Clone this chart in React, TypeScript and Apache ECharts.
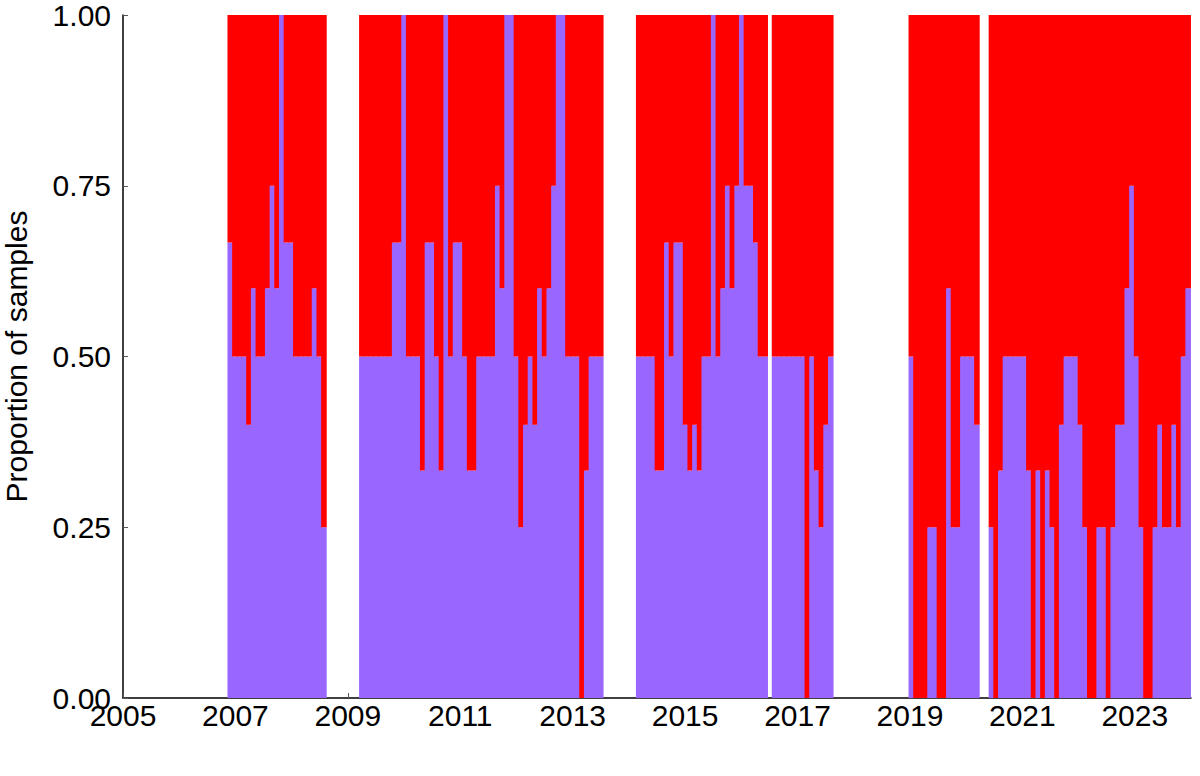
import React, { useEffect, useRef } from "react";
import * as echarts from "echarts";

// Blocks of consecutive monthly proportions (purple share); start = months since Jan 2005
const blockStarts = [22.3, 50.4, 109.5, 138.5, 167.7, 184.8];
const block1 = [0.667, 0.5, 0.5, 0.5, 0.4, 0.6, 0.5, 0.5, 0.6, 0.75, 0.6, 1, 0.667, 0.667, 0.5, 0.5, 0.5, 0.5, 0.6, 0.5, 0.25];
const block2 = [0.5, 0.5, 0.5, 0.5, 0.5, 0.5, 0.5, 0.667, 0.667, 1, 0.5, 0.5, 0.5, 0.333, 0.667, 0.667, 0.5, 0.333, 1, 0.5, 0.667, 0.667, 0.5, 0.333, 0.333,
  0.5, 0.5, 0.5, 0.5, 0.75, 0.6, 1, 1, 0.5, 0.25, 0.4, 0.5, 0.4, 0.6, 0.5, 0.6, 0.75, 1, 1, 0.5, 0.5, 0.5, 0, 0.333, 0.5, 0.5, 0.5];
const block3 = [0.5, 0.5, 0.5, 0.5, 0.333, 0.333, 0.667, 0.5, 0.667, 0.667, 0.4, 0.333, 0.4, 0.333, 0.5, 0.5, 1, 0.5, 0.6, 0.75, 0.6, 0.75, 1, 0.75, 0.75, 0.667, 0.5, 0.5];
const block4 = [0.5, 0.5, 0.5, 0.5, 0.5, 0.5, 0.5, 0, 0.5, 0.333, 0.25, 0.4, 0.5];
const block5 = [0.5, 0, 0, 0, 0.25, 0.25, 0, 0, 0.6, 0.25, 0.25, 0.5, 0.5, 0.5, 0.4];
const block6 = [0.25, 0, 0.333, 0.5, 0.5, 0.5, 0.5, 0.5, 0.333, 0, 0.333,
  0, 0.333, 0.25, 0, 0.4, 0.5, 0.5, 0.5, 0.4, 0.25, 0, 0, 0.25, 0.25, 0, 0.25, 0.4, 0.4, 0.6, 0.75, 0.5, 0.25, 0, 0, 0.25, 0.4, 0.25, 0.25, 0.4, 0.25, 0.5, 0.6];
const blocks = [block1, block2, block3, block4, block5, block6];
const xTickStartYear = 2005;

export default function App() {
  const ref = useRef<HTMLDivElement>(null);
  useEffect(() => {
    const chart = echarts.init(ref.current!, null, { renderer: "svg" });
    const data: number[][] = [];
    blocks.forEach((b, bi) => {
      b.forEach((v, i) => {
        const s = (blockStarts[bi] + i) / 12;
        data.push([s, s + 1 / 12, v]);
      });
    });
    const font = "Liberation Sans, Arial, sans-serif";
    chart.setOption({
      animation: false,
      grid: { left: 123, right: 9, top: 15, bottom: 78, outerBoundsMode: "none", containLabel: false },
      xAxis: {
        type: "value", min: 0, max: 19, interval: 2,
        axisLine: { show: true, lineStyle: { color: "#000", width: 1.5 } },
        axisTick: { show: true, inside: true, length: 5, lineStyle: { color: "#555" } },
        splitLine: { show: false },
        axisLabel: { formatter: (v: number) => String(v + xTickStartYear), color: "#000", fontSize: 30, fontFamily: font, margin: 2, showMaxLabel: false },
      },
      yAxis: {
        type: "value", min: 0, max: 1, interval: 0.25,
        name: "Proportion of samples", nameLocation: "middle", nameGap: 92,
        nameTextStyle: { fontSize: 30, fontFamily: font, color: "#000" },
        axisLine: { show: true, lineStyle: { color: "#000", width: 1.5 } },
        axisTick: { show: true, inside: true, length: 5, lineStyle: { color: "#555" } },
        splitLine: { show: false },
        axisLabel: { formatter: (v: number) => v.toFixed(2), color: "#000", fontSize: 30, fontFamily: font, margin: 12 },
      },
      series: [{
        type: "custom",
        data,
        clip: true,
        renderItem: (params: any, api: any) => {
          const s = api.value(0), e = api.value(1), v = api.value(2);
          const p0 = api.coord([s, 0]);
          const pv = api.coord([e, v]);
          const p1 = api.coord([e, 1]);
          const x = p0[0];
          const w = pv[0] - p0[0] + 0.9;
          return {
            type: "group",
            children: [
              { type: "rect", shape: { x, y: pv[1], width: w, height: p0[1] - pv[1] }, style: { fill: "#9966ff" } },
              { type: "rect", shape: { x, y: p1[1], width: w, height: pv[1] - p1[1] }, style: { fill: "#ff0000" } },
            ],
          };
        },
        z: 1,
      }],
    });
    return () => chart.dispose();
  }, []);
  return <div ref={ref} style={{ width: 1200, height: 776, position: "absolute", left: 0, top: 0 }} />;
}
